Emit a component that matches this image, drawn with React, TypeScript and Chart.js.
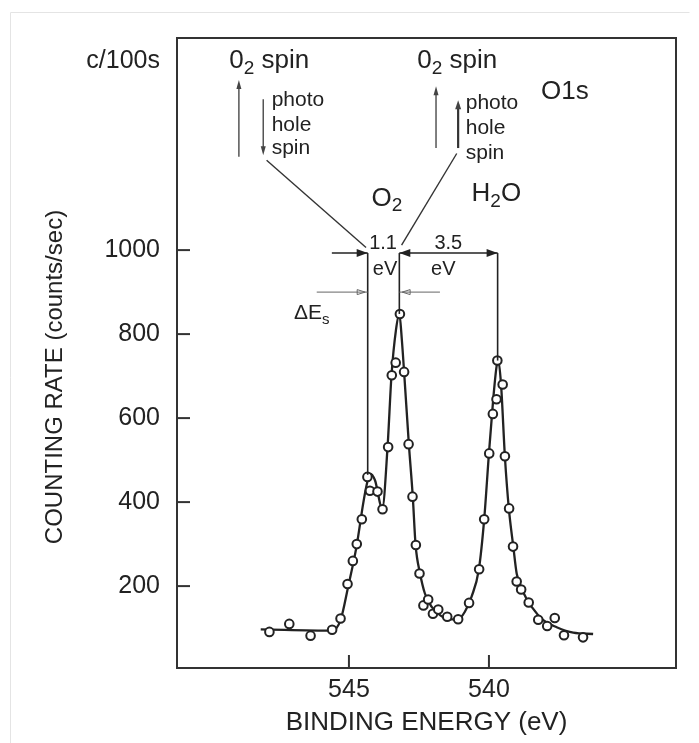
import React, { useEffect, useRef } from 'react';
import { Chart, registerables } from 'chart.js';

Chart.register(...registerables);

// ---- data ----
const energyPoints = [547.84, 547.13, 546.37, 545.6, 545.3, 545.05, 544.86, 544.72, 544.54, 544.34, 544.25, 543.98, 543.8, 543.6, 543.47, 543.33, 543.18, 543.03, 542.87, 542.73, 542.61, 542.48, 542.34, 542.17, 542.0, 541.81, 541.49, 541.1, 540.71, 540.35, 540.17, 539.99, 539.86, 539.73, 539.7, 539.51, 539.43, 539.28, 539.14, 539.01, 538.85, 538.58, 538.24, 537.92, 537.65, 537.32, 536.64];
const countPoints = [91, 110, 82, 96, 123, 205, 260, 300, 359, 460, 427, 425, 383, 531, 702, 732, 848, 710, 538, 413, 298, 230, 154, 168, 134, 144, 127, 121, 160, 240, 359, 516, 610, 645, 737, 680, 509, 385, 294, 211, 192, 161, 120, 105, 124, 83, 78];

const curveEnergy = [548.15, 545.6, 545.3, 545.03, 544.73, 544.49, 544.37, 544.25, 544.07, 543.81, 543.62, 543.48, 543.32, 543.2, 543.11, 543.03, 542.86, 542.72, 542.62, 542.46, 542.29, 542.05, 541.75, 541.39, 541.1, 540.86, 540.62, 540.36, 540.17, 540.0, 539.85, 539.73, 539.67, 539.57, 539.43, 539.29, 539.13, 539.01, 538.78, 538.48, 538.06, 537.58, 536.99, 536.28];
const curveCounts = [97, 94, 119, 198, 294, 397, 440, 468, 452, 385, 532, 702, 810, 848, 786, 710, 538, 413, 298, 230, 183, 151, 131, 121, 121, 139, 175, 240, 359, 516, 643, 722, 738, 682, 508, 385, 294, 230, 186, 151, 119, 102, 89, 86];

const xTickValues = [545, 540];
const yTickValues = [200, 400, 600, 800, 1000];
const yUnitValue = 1450;
const yUnitLabel = 'c/100s';
const xMin = 533.32;
const xMax = 551.14;
const yMin = 5;
const yMax = 1505;

// peak markers (binding energy, counts)
const shoulderE = 544.33;
const o2PeakE = 543.2;
const h2oPeakE = 539.69;
const markerLevel = 993;
const shoulderTop = 465;
const o2Top = 848;
const h2oTop = 737;
const splitLabel = '1.1';
const shiftLabel = '3.5';

const FONT = '"Liberation Sans", Arial, Helvetica, sans-serif';
const INK = '#222';

function line(ctx: CanvasRenderingContext2D, x1: number, y1: number, x2: number, y2: number) {
  ctx.beginPath();
  ctx.moveTo(x1, y1);
  ctx.lineTo(x2, y2);
  ctx.stroke();
}

function head(ctx: CanvasRenderingContext2D, x1: number, y1: number, x2: number, y2: number, len: number, half: number, filled = true) {
  const a = Math.atan2(y2 - y1, x2 - x1);
  const bx = x2 - len * Math.cos(a);
  const by = y2 - len * Math.sin(a);
  const nx = -Math.sin(a) * half;
  const ny = Math.cos(a) * half;
  ctx.beginPath();
  ctx.moveTo(x2, y2);
  ctx.lineTo(bx + nx, by + ny);
  ctx.lineTo(bx - nx, by - ny);
  ctx.closePath();
  if (filled) ctx.fill();
  else ctx.stroke();
}

// draws parts of [text, isSubscript] starting at x (left), vertically centered at y
function subText(ctx: CanvasRenderingContext2D, parts: [string, boolean][], x: number, y: number, size: number) {
  let cx = x;
  ctx.textAlign = 'left';
  ctx.textBaseline = 'middle';
  for (const [t, sub] of parts) {
    const s = sub ? Math.round(size * 0.72) : size;
    ctx.font = `${s}px ${FONT}`;
    ctx.fillText(t, cx, sub ? y + size * 0.3 : y);
    cx += ctx.measureText(t).width;
  }
}

const annotPlugin = {
  id: 'annot',
  afterDraw(chart: any) {
    const ctx: CanvasRenderingContext2D = chart.ctx;
    const xs = chart.scales.x;
    const ys = chart.scales.y;
    const X = (v: number) => xs.getPixelForValue(v);
    const Y = (v: number) => ys.getPixelForValue(v);
    const { left, right, top, bottom } = chart.chartArea;
    ctx.save();

    // faint outer frame of the picture
    ctx.strokeStyle = '#e4e4e4';
    ctx.lineWidth = 1;
    line(ctx, 10.5, 12.5, 689.5, 12.5);
    line(ctx, 10.5, 12.5, 10.5, 743);

    // plot frame
    ctx.strokeStyle = '#333';
    ctx.lineWidth = 2;
    ctx.strokeRect(left, top, right - left, bottom - top);

    // inward tick marks
    yTickValues.forEach((v) => line(ctx, left, Y(v), left + 13, Y(v)));
    xTickValues.forEach((v) => line(ctx, X(v), bottom, X(v), bottom - 13));

    // axis titles
    ctx.fillStyle = INK;
    ctx.textAlign = 'center';
    ctx.textBaseline = 'middle';
    ctx.font = `26px ${FONT}`;
    ctx.fillText('BINDING ENERGY (eV)', (left + right) / 2, 723);
    ctx.save();
    ctx.translate(55, 377);
    ctx.rotate(-Math.PI / 2);
    ctx.font = `24px ${FONT}`;
    ctx.fillText('COUNTING RATE (counts/sec)', 0, 0);
    ctx.restore();

    // vertical marker lines
    ctx.strokeStyle = '#222';
    ctx.fillStyle = '#222';
    ctx.lineWidth = 1.6;
    line(ctx, X(shoulderE), Y(markerLevel), X(shoulderE), Y(shoulderTop));
    line(ctx, X(o2PeakE), Y(markerLevel), X(o2PeakE), Y(o2Top));
    line(ctx, X(h2oPeakE), Y(markerLevel), X(h2oPeakE), Y(h2oTop));

    // dimension arrows
    const ly = Y(markerLevel);
    line(ctx, X(545.61), ly, X(shoulderE), ly);
    head(ctx, X(545.61), ly, X(shoulderE), ly, 11, 4);
    line(ctx, X(o2PeakE), ly, X(h2oPeakE), ly);
    head(ctx, X(h2oPeakE), ly, X(o2PeakE), ly, 11, 4);
    head(ctx, X(o2PeakE), ly, X(h2oPeakE), ly, 11, 4);

    // ΔEs thin arrows
    ctx.strokeStyle = '#666';
    ctx.lineWidth = 1;
    const dy = Y(900);
    line(ctx, X(546.15), dy, X(shoulderE), dy);
    head(ctx, X(546.15), dy, X(544.42), dy, 8, 2.5, false);
    line(ctx, X(541.75), dy, X(o2PeakE), dy);
    head(ctx, X(541.75), dy, X(543.1), dy, 8, 2.5, false);

    // leader lines from spin labels
    ctx.strokeStyle = '#333';
    ctx.lineWidth = 1.4;
    line(ctx, X(547.94), Y(1214), X(544.39), Y(1006));
    line(ctx, X(541.15), Y(1230), X(543.12), Y(1012));

    // spin arrows
    ctx.strokeStyle = '#555';
    ctx.fillStyle = '#444';
    ctx.lineWidth = 1.5;
    line(ctx, X(548.93), Y(1222), X(548.93), Y(1395));
    head(ctx, X(548.93), Y(1222), X(548.93), Y(1405), 9, 2.5);
    line(ctx, X(548.06), Y(1359), X(548.06), Y(1236));
    head(ctx, X(548.06), Y(1359), X(548.06), Y(1226), 9, 2.5);
    line(ctx, X(541.89), Y(1243), X(541.89), Y(1380));
    head(ctx, X(541.89), Y(1243), X(541.89), Y(1390), 9, 2.5);
    ctx.lineWidth = 2.2;
    ctx.strokeStyle = '#333';
    line(ctx, X(541.1), Y(1243), X(541.1), Y(1347));
    head(ctx, X(541.1), Y(1243), X(541.1), Y(1357), 9, 3);

    // texts
    ctx.fillStyle = INK;
    ctx.textAlign = 'center';
    ctx.textBaseline = 'middle';
    ctx.font = `20px ${FONT}`;
    ctx.fillText(splitLabel, X(543.78), Y(1016));
    ctx.fillText('eV', X(543.71), Y(954));
    ctx.fillText(shiftLabel, X(541.45), Y(1016));
    ctx.fillText('eV', X(541.63), Y(954));

    ctx.font = `26px ${FONT}`;
    ctx.fillText('O1s', X(537.29), Y(1377));

    subText(ctx, [['ΔE', false], ['s', true]], X(546.96), Y(849), 21);
    subText(ctx, [['O', false], ['2', true]], X(544.19), Y(1123), 26);
    subText(ctx, [['H', false], ['2', true], ['O', false]], X(540.62), Y(1133), 26);
    subText(ctx, [['0', false], ['2', true], [' spin', false]], X(549.27), Y(1451), 26);
    subText(ctx, [['0', false], ['2', true], [' spin', false]], X(542.56), Y(1451), 26);

    ctx.font = `21px ${FONT}`;
    ctx.textAlign = 'left';
    ctx.fillText('photo', X(547.76), Y(1357));
    ctx.fillText('hole', X(547.76), Y(1298));
    ctx.fillText('spin', X(547.76), Y(1242));
    ctx.fillText('photo', X(540.83), Y(1350));
    ctx.fillText('hole', X(540.83), Y(1290));
    ctx.fillText('spin', X(540.83), Y(1231));

    ctx.restore();
  },
};

export default function App() {
  const ref = useRef<HTMLCanvasElement>(null);

  useEffect(() => {
    if (!ref.current) return;
    const pts = energyPoints.map((e, i) => ({ x: e, y: countPoints[i] }));
    const curve = curveEnergy.map((e, i) => ({ x: e, y: curveCounts[i] }));
    const chart = new Chart(ref.current, {
      type: 'scatter',
      data: {
        datasets: [
          {
            label: 'measured',
            data: pts,
            pointStyle: 'circle',
            pointRadius: 4.3,
            pointBorderWidth: 2,
            pointBackgroundColor: '#fff',
            pointBorderColor: '#222',
            showLine: false,
            order: 0,
          },
          {
            label: 'fit',
            data: curve,
            showLine: true,
            pointRadius: 0,
            borderColor: '#222',
            borderWidth: 2.3,
            cubicInterpolationMode: 'monotone',
            fill: false,
            order: 1,
          } as any,
        ],
      },
      options: {
        animation: false,
        responsive: false,
        devicePixelRatio: 1,
        layout: { padding: { top: 38, right: 23, left: 0, bottom: 0 } },
        plugins: { legend: { display: false }, tooltip: { enabled: false } },
        scales: {
          x: {
            type: 'linear',
            reverse: true,
            min: xMin,
            max: xMax,
            grid: { display: false, drawTicks: false },
            border: { display: false },
            ticks: {
              autoSkip: false,
              maxRotation: 0,
              padding: 7,
              color: INK,
              font: { family: FONT, size: 25 },
              callback: (v: any) => String(v),
            },
            afterBuildTicks: (s: any) => {
              s.ticks = xTickValues.map((v) => ({ value: v }));
            },
            afterFit: (s: any) => {
              s.height = 75;
            },
          },
          y: {
            type: 'linear',
            min: yMin,
            max: yMax,
            grid: { display: false, drawTicks: false },
            border: { display: false },
            ticks: {
              autoSkip: false,
              padding: 17,
              color: INK,
              font: { family: FONT, size: 25 },
              callback: (v: any) => (v === yUnitValue ? yUnitLabel : String(v)),
            },
            afterBuildTicks: (s: any) => {
              s.ticks = [...yTickValues, yUnitValue].map((v) => ({ value: v }));
            },
            afterFit: (s: any) => {
              s.width = 177;
            },
          },
        },
      },
      plugins: [annotPlugin],
    });
    return () => chart.destroy();
  }, []);

  return (
    <div style={{ position: 'absolute', left: 0, top: 0, width: 699, height: 743, background: '#fff' }}>
      <canvas ref={ref} width={699} height={743} style={{ width: 699, height: 743, display: 'block' }} />
    </div>
  );
}
